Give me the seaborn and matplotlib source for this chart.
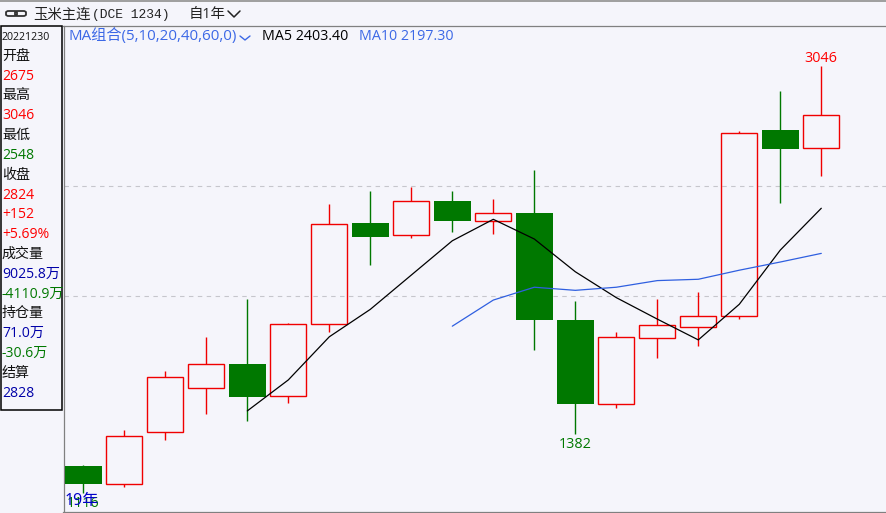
"""
Corn continuous contract - yearly candlestick chart with MA5 / MA10
"""

import matplotlib
matplotlib.use("Agg")
import matplotlib.pyplot as plt
from matplotlib.lines import Line2D
from matplotlib.patches import FancyBboxPatch, Rectangle
import pandas as pd
import seaborn as sns

# ============================================================================
# DATA
# ============================================================================
OPEN = [1238, 1155, 1393, 1589, 1699, 1556, 1881, 2336, 2284, 2436,
        2347, 2382, 1898, 1520, 1818, 1868, 1915, 2757, 2675]
CLOSE = [1157, 1372, 1639, 1698, 1550, 1878, 2330, 2273, 2434, 2345,
         2380, 1898, 1518, 1820, 1874, 1915, 2742, 2672, 2824]
HIGH = [1242, 1401, 1667, 1821, 1993, 1884, 2422, 2481, 2501, 2481,
        2445, 2576, 1984, 1844, 1993, 2023, 2752, 2933, 3046]
LOW = [1116, 1145, 1356, 1474, 1443, 1524, 1844, 2147, 2269, 2296,
       2287, 1762, 1382, 1502, 1728, 1782, 1904, 2427, 2548]

MA5 = [None, None, None, None, 1487, 1627, 1822, 1946, 2101, 2256,
       2353, 2264, 2116, 1999, 1902, 1808, 1969, 2214, 2403]
MA10 = [None, None, None, None, None, None, None, None, None, 1870,
        1988, 2046, 2032, 2046, 2076, 2082, 2123, 2160, 2199]

GRID_LEVELS = [2504, 2006]

PANEL_LABELS = ["20221230", "开盘", "2675", "最高", "3046", "最低", "2548", "收盘", "2824",
                "+152", "+5.69%", "成交量", "9025.8万", "-4110.9万", "持仓量", "71.0万",
                "-30.6万", "结算", "2828"]
PANEL_COLORS = ["k", "k", "r", "k", "r", "k", "g", "k", "r",
                "r", "r", "k", "b", "g", "k", "b",
                "g", "k", "b"]

# ============================================================================
# STYLE
# ============================================================================
BG = "#f5f5fb"
RED = "#f00000"
GREEN = "#007800"
LINE_BLUE = "#2f5fe0"
TEXT_BLUE = "#3c68e6"
COLOR_MAP = {"k": "#111111", "r": "#ff0000", "g": "#007800", "b": "#0000a8"}
W, H = 887, 513

sns.set_style("white")
plt.rcParams["font.family"] = ["Open Sans", "Noto Sans CJK SC", "DejaVu Sans"]


def px_text(fig, x, y, s, **kw):
    """Text placed by pixel position, y counted from the top."""
    kw.setdefault("va", "center")
    kw.setdefault("fontsize", 10)
    fig.text(x / W, 1 - y / H, s, **kw)


def px_line(fig, xs, ys, color, lw=0.8):
    fig.add_artist(Line2D([x / W for x in xs], [1 - y / H for y in ys],
                          color=color, lw=lw, transform=fig.transFigure))


def px_rect(fig, x0, y0, x1, y1, **kw):
    fig.add_artist(Rectangle((x0 / W, 1 - y1 / H), (x1 - x0) / W, (y1 - y0) / H,
                             transform=fig.transFigure, **kw))


fig = plt.figure(figsize=(W / 100, H / 100), dpi=100, facecolor=BG)
ax = fig.add_axes([63.5 / W, 1 - 511.5 / H, 823.5 / W, 486 / H], facecolor=BG)

# ============================================================================
# CANDLES
# ============================================================================
df = pd.DataFrame({"i": range(len(OPEN)), "open": OPEN, "close": CLOSE,
                   "high": HIGH, "low": LOW, "ma5": MA5, "ma10": MA10})
df["ma5"] = pd.to_numeric(df["ma5"])
df["ma10"] = pd.to_numeric(df["ma10"])

for level in GRID_LEVELS:
    ax.axhline(level, color="#c6c6cc", lw=0.8, dashes=(4, 4), zorder=1)

for _, row in df.iterrows():
    top = max(row["open"], row["close"])
    bot = min(row["open"], row["close"])
    if row["close"] >= row["open"]:
        ax.vlines(row["i"], top, row["high"], color=RED, lw=1.0, zorder=2)
        ax.vlines(row["i"], row["low"], bot, color=RED, lw=1.0, zorder=2)
        ax.bar(row["i"], top - bot, bottom=bot, width=0.875, facecolor="none",
               edgecolor=RED, lw=1.0, zorder=3)
    else:
        ax.vlines(row["i"], row["low"], row["high"], color=GREEN, lw=1.0, zorder=2)
        ax.bar(row["i"], top - bot, bottom=bot, width=0.9, color=GREEN, lw=0, zorder=3)

# ============================================================================
# MOVING AVERAGES
# ============================================================================
sns.lineplot(data=df, x="i", y="ma5", color="black", lw=0.9, ax=ax, zorder=4)
sns.lineplot(data=df, x="i", y="ma10", color=LINE_BLUE, lw=0.9, ax=ax, zorder=4)

ax.set_xlim((63.5 - 83.3) / 41, (887 - 83.3) / 41)
ax.set_ylim(3344.3 - 4.52 * 511.5, 3344.3 - 4.52 * 25.5)
ax.set_xlabel("")
ax.set_ylabel("")
ax.set_xticks([])
ax.set_yticks([])
ax.spines["right"].set_visible(False)
for side in ["left", "top", "bottom"]:
    ax.spines[side].set_color("#808080")
    ax.spines[side].set_linewidth(0.9)

# price labels on the extremes
ax.annotate(str(HIGH[18]), (18, HIGH[18]), xytext=(0, 0), textcoords="offset points",
            ha="center", va="bottom", color="#ff0000", fontsize=10.4)
ax.annotate(str(LOW[12]), (12, LOW[12]), xytext=(0, -2), textcoords="offset points",
            ha="center", va="top", color=GREEN, fontsize=10.4)
ax.annotate(str(LOW[0]), (0, LOW[0]), xytext=(0, -2.5), textcoords="offset points",
            ha="center", va="top", color=GREEN, fontsize=10.4)
px_text(fig, 65, 501, "19年", color="#0000c8", fontsize=11.5)

# ============================================================================
# HEADER
# ============================================================================
px_rect(fig, 0, 0, W, 2, color="#a0a0a0", lw=0)
for x0 in [6, 15]:
    fig.add_artist(FancyBboxPatch((x0 / W, 1 - 16 / H), 11 / W, 5 / H,
                                  boxstyle="round,pad=0,rounding_size=0.003",
                                  fc="none", ec="#333333", lw=1.3, transform=fig.transFigure))
px_text(fig, 33, 15, "玉米主连", color="#222222", fontsize=10.4)
px_text(fig, 92, 15, "(DCE 1234)", color="#222222", fontsize=9.4,
        family=["Liberation Mono", "DejaVu Sans"])
px_text(fig, 189, 15, "自1年", color="#222222", fontsize=10.4)
px_line(fig, [228, 234, 240], [11, 17, 11], "#222222", lw=1.1)

px_text(fig, 69, 36, "MA组合(5,10,20,40,60,0)", color=TEXT_BLUE, fontsize=10.9)
px_line(fig, [240, 245, 250], [36, 40, 36], TEXT_BLUE, lw=1)
px_text(fig, 262, 36, "MA5 2403.40", color="black", fontsize=10.3)
px_text(fig, 359, 36, "MA10 2197.30", color=TEXT_BLUE, fontsize=10.3)

# ============================================================================
# INFO PANEL
# ============================================================================
px_rect(fig, 1.5, 26, 62.5, 410, fc=BG, ec="black", lw=1.1, zorder=5)
for n, (label, col) in enumerate(zip(PANEL_LABELS, PANEL_COLORS)):
    size = 7.7 if n == 0 else 10.1
    y = 38 if n == 0 else 36.5 + 19.82 * n
    px_text(fig, 2, y, label, color=COLOR_MAP[col], fontsize=size, zorder=6)

fig.savefig("out.png", dpi=100, facecolor=BG)
